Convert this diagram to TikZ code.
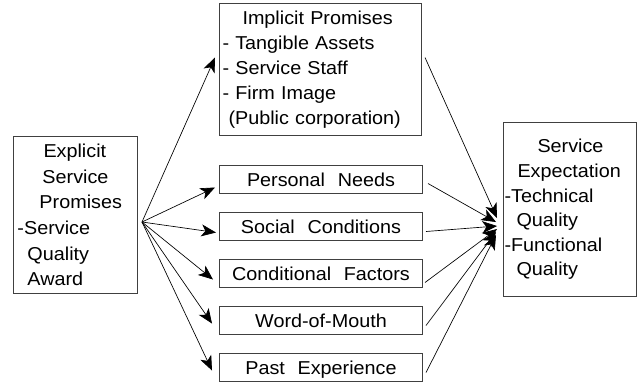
\documentclass[tikz,border=0pt]{standalone}
\usepackage{fontspec}
\setmainfont{Liberation Sans}[FakeStretch=1.06,WordSpace=2.3]
\usetikzlibrary{arrows.meta,calc}

\begin{document}
\begin{tikzpicture}[x=0.75pt,y=-0.75pt]
	\tikzstyle{every node}=[font=\fontsize{14}{19}\selectfont]
	\tikzstyle{box}=[draw=black!75, line width=0.75pt, anchor=north west, inner sep=0pt, align=left]
	\tikzstyle{factor}=[box, align=center, minimum width=152.25pt, minimum height=21pt, text height=10pt, text depth=0pt]
	\tikzstyle{arr}=[line width=0.5pt, -{Stealth[length=11pt,width=9pt,inset=3pt]}]
	\useasboundingbox (0,0) rectangle (638,383);
	
	% explicit promises on the left
	\node[box, text width=93pt, minimum height=117.75pt, font=\fontsize{14}{19.2}\selectfont] (expl) at (13,136)
		{\hspace*{22.5pt}Explicit\\\hspace*{21.75pt}Service\\\hspace*{19.5pt}Promises\\\hspace*{3pt}-Service\\\hspace*{10.5pt}Quality\\\hspace*{10.5pt}Award};
	
	% implicit promises and the other factors
	\node[box, text width=151.5pt, minimum height=99pt, font=\fontsize{14}{18.75}\selectfont] (impl) at (219,3)
		{\hspace*{17.25pt}Implicit Promises\\\hspace*{2.25pt}- Tangible Assets\\\hspace*{2.25pt}- Service Staff\\\hspace*{2.25pt}- Firm Image\\\hspace*{6.75pt}(Public corporation)};
	\node[factor] (need) at (219,165) {Personal Needs};
	\node[factor] (soc) at (219,212) {Social Conditions};
	\node[factor] (cond) at (219,259) {Conditional Factors};
	\node[factor] (wom) at (219,306) {Word-of-Mouth};
	\node[factor] (past) at (219,353) {Past Experience};
	
	% service expectation on the right
	\node[box, text width=99.75pt, minimum height=130.5pt, font=\fontsize{14}{18.4}\selectfont] (expc) at (503,122)
		{\hspace*{25.5pt}Service\\\hspace*{10.5pt}Expectation\\\hspace*{0.75pt}-Technical\\\hspace*{9.75pt}Quality\\\hspace*{0.75pt}-Functional\\\hspace*{9.75pt}Quality};
	
	\coordinate (src) at (142,222);
	\coordinate (conv) at (497,226);
	
	\draw[arr] (src) -- ($(impl.west)+(-4,-12)$);
	\draw[arr] (src) -- ($(need.west)+(-4,8)$);
	\draw[arr] (src) -- ($(soc.west)+(-3,6)$);
	\draw[arr] (src) -- ($(cond.west)+(-6,6)$);
	\draw[arr] (src) -- ($(wom.west)+(-7,3)$);
	\draw[arr] (src) -- ($(past.west)+(-7,3)$);
	
	\draw[arr] ($(impl.east)+(3,-12)$) -- ($(conv)+(0,-8)$);
	\draw[arr] ($(need.east)+(5,4)$) -- ($(conv)+(-1,-4)$);
	\draw[arr] ($(soc.east)+(3,5)$) -- (conv);
	\draw[arr] ($(cond.east)+(2,9)$) -- ($(conv)+(0,3)$);
	\draw[arr] ($(wom.east)+(3,5)$) -- ($(conv)+(-1,6)$);
	\draw[arr] ($(past.east)+(3,5)$) -- ($(conv)+(-1,9)$);
\end{tikzpicture}
\end{document}
